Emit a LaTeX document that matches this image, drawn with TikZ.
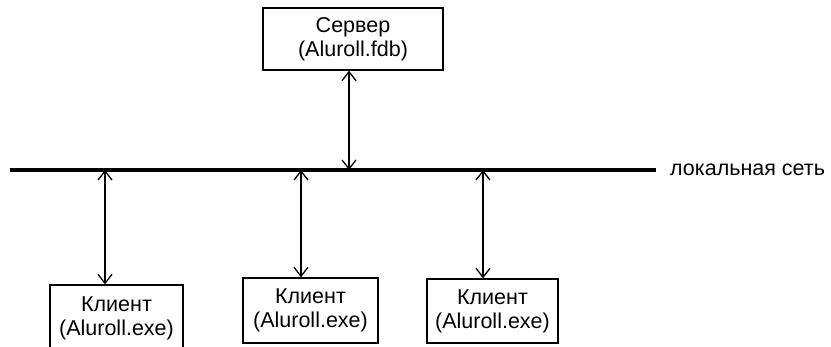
\documentclass[tikz,border=0pt]{standalone}
\usepackage{fontspec}
\setmainfont{Liberation Sans}
\usetikzlibrary{arrows.meta}

\begin{document}
\begin{tikzpicture}[x=1pt,y=-1pt,
  box/.style = {draw, line width=1.3pt, align=center, font=\fontsize{21.5}{24}\selectfont, inner sep=0pt},
  link/.style = {line width=1.3pt, {Straight Barb[length=9pt,width=14pt,line width=1.3pt]}-{Straight Barb[length=9pt,width=14pt,line width=1.3pt]}}]
\useasboundingbox (0,0) rectangle (831,347);
\node[box, minimum width=180, minimum height=62] (srv) at (353,39) {Сервер\\(Aluroll.fdb)};
\node[box, minimum width=133, minimum height=66] (c1) at (116.5,318) {Клиент\\(Aluroll.exe)};
\node[box, minimum width=135, minimum height=65] (c2) at (310.5,310.5) {Клиент\\(Aluroll.exe)};
\node[box, minimum width=131, minimum height=64] (c3) at (492.5,311) {Клиент\\(Aluroll.exe)};
\coordinate (w) at (10,170);
\coordinate (e) at (656,170);
\coordinate (n0) at (349,170);
\coordinate (n1) at (105,170);
\coordinate (n2) at (301,170);
\coordinate (n3) at (483,170);
\node[anchor=west, font=\fontsize{21.5}{24}\selectfont, inner sep=0pt] (net) at (670,170) {локальная сеть};
\draw[line width=4.5pt] (w) -- (e);
\draw[link] (n0 |- srv.south) -- (n0);
\draw[link] (n1) -- (n1 |- c1.north);
\draw[link] (n2) -- (n2 |- c2.north);
\draw[link] (n3) -- (n3 |- c3.north);
\end{tikzpicture}
\end{document}
